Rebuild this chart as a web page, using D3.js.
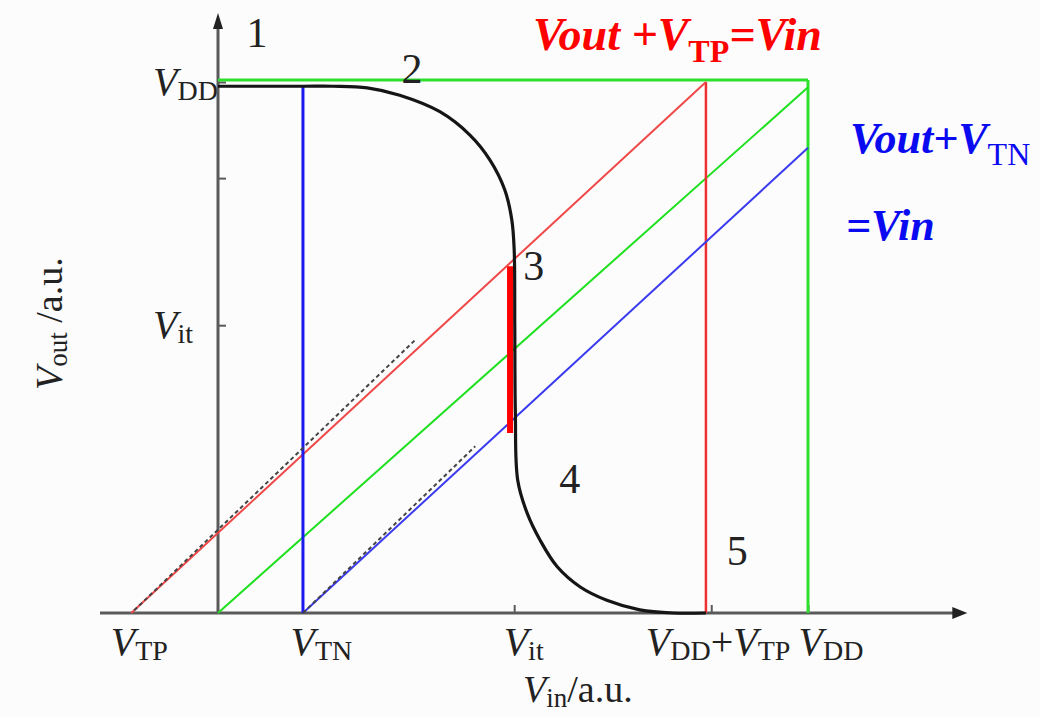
<!DOCTYPE html>
<html>
<head>
<meta charset="utf-8">
<script src="https://cdn.jsdelivr.net/npm/d3@7"></script>
<style>
  body { margin: 0; background: #fcfcfc; }
  svg { display: block; }
</style>
</head>
<body>
<svg id="chart" width="1040" height="717"></svg>
<script>
// CMOS inverter voltage transfer characteristic, voltages in units of VDD.
const VDD = 1;
const VTP = -0.147;
const VTN = 0.144;
const VIT = 0.502;
const VDD_PLUS_VTP = 0.827;

// Vout(Vin) of the inverter
const vtcVin  = [0, 0.144, 0.195, 0.253, 0.308, 0.376, 0.427, 0.461, 0.486, 0.498, 0.502, 0.503, 0.504, 0.508, 0.524, 0.546, 0.575, 0.614, 0.659, 0.715, 0.771, 0.827];
const vtcVout = [0.992, 0.992, 0.992, 0.989, 0.975, 0.944, 0.900, 0.853, 0.797, 0.740, 0.684, 0.542, 0.377, 0.250, 0.188, 0.137, 0.087, 0.049, 0.024, 0.006, 0.000, 0.000];

// boundary lines [Vin, Vout]
const pmosBoundary = [[VTP, 0], [VDD_PLUS_VTP, 1]];          // Vout + VTP = Vin
const nmosBoundary = [[VTN, 0], [1.0, 0.876]];               // Vout + VTN = Vin
const unityLine    = [[0, 0], [1.0, 0.99]];                  // Vout = Vin
const pmosSim      = [[-0.142, 0.005], [0.334, 0.514]];      // dashed simulation traces
const nmosSim      = [[VTN, 0], [0.436, 0.314]];
const transitionBar = [[0.495, 0.653], [0.495, 0.339]];     // region 3 (both saturated)

// axis ticks
const xTickValues = [VTP, VTN, VIT, 0.836, VDD];
const xTickLabels = [
  [["V", "i"], ["TP", "s"]],
  [["V", "i"], ["TN", "s"]],
  [["V", "i"], ["it", "s"]],
  [["V", "i"], ["DD", "s"], ["+", "n"], ["V", "i"], ["TP", "s"]],
  [["V", "i"], ["DD", "s"]]
];
const xTickMarked = [false, false, true, true, true];
const yTickValues = [1.0, 0.819, 0.542];
const yTickLabels = [
  [["V", "i"], ["DD", "s"]],
  [],
  [["V", "i"], ["it", "s"]]
];

// operating-region numbers [Vin, Vout, label]
const regionVin  = [0.066, 0.329, 0.535, 0.596, 0.880];
const regionVout = [1.065, 0.998, 0.628, 0.226, 0.090];
const regionText = ["1", "2", "3", "4", "5"];

// label start offsets from their tick, px
const xLabelShift = [-21, -13, -11, -66, -10];

const SERIF = "Liberation Serif";
const svg = d3.select("#chart").attr("font-family", SERIF);
const x = d3.scaleLinear().domain([0, 1]).range([218, 808]);
const y = d3.scaleLinear().domain([0, 1]).range([613, 82]);

const AXIS = "#5a5a5a";

// writes runs of italic / subscript / plain text into a <text>
function rich(textSel, parts, big, small, opts = {}) {
  let shifted = false;
  textSel.attr("font-family", SERIF);
  parts.forEach(([t, kind]) => {
    const ts = textSel.append("tspan").text(t);
    if (kind === "s") {
      ts.attr("font-size", small).attr("font-style", "normal")
        .attr("font-weight", opts.subWeight || null);
      if (!shifted) { ts.attr("dy", opts.subShift || 6); shifted = true; }
    } else {
      ts.attr("font-size", big)
        .attr("font-style", kind === "i" ? "italic" : "normal");
      if (shifted) { ts.attr("dy", -(opts.subShift || 6)); shifted = false; }
    }
  });
  return textSel;
}

// ---- axes ----
const xAxis = d3.axisBottom(x).tickValues(xTickValues).tickSizeInner(-8).tickSizeOuter(0).tickFormat("");
const gx = svg.append("g").attr("transform", `translate(0,${y(0)})`).call(xAxis);
gx.select(".domain").remove();
gx.selectAll(".tick line").attr("stroke", AXIS).attr("stroke-width", 2)
  .attr("display", (d, i) => xTickMarked[i] ? null : "none");
gx.selectAll(".tick").each(function (d, i) {
  const t = d3.select(this).append("text")
    .attr("y", 42).attr("x", xLabelShift[i]).attr("text-anchor", "start")
    .attr("fill", "#222").attr("font-size", 40);
  rich(t, xTickLabels[i], 40, 28, { subShift: 5 });
});

const yAxis = d3.axisLeft(y).tickValues(yTickValues).tickSizeInner(-8).tickSizeOuter(0).tickFormat("");
const gy = svg.append("g").attr("transform", `translate(${x(0)},0)`).call(yAxis);
gy.select(".domain").remove();
gy.selectAll(".tick line").attr("stroke", AXIS).attr("stroke-width", 2);
gy.selectAll(".tick").each(function (d, i) {
  if (!yTickLabels[i].length) return;
  const t = d3.select(this).append("text")
    .attr("x", -65).attr("y", 12).attr("text-anchor", "start")
    .attr("fill", "#222").attr("font-size", 40);
  rich(t, yTickLabels[i], 40, 28, { subShift: 5 });
});

// axis lines with arrow heads
const xEnd = x(1.27), yTop = y(1.13);
svg.append("line").attr("x1", x(-0.2)).attr("x2", xEnd - 6).attr("y1", y(0)).attr("y2", y(0))
  .attr("stroke", AXIS).attr("stroke-width", 3);
svg.append("line").attr("x1", x(0)).attr("x2", x(0)).attr("y1", y(0)).attr("y2", yTop + 8)
  .attr("stroke", AXIS).attr("stroke-width", 3);
svg.append("path")
  .attr("d", `M${xEnd},${y(0)} L${xEnd - 15},${y(0) - 6} L${xEnd - 15},${y(0) + 6} Z`)
  .attr("fill", "#222");
svg.append("path")
  .attr("d", `M${x(0)},${yTop} L${x(0) - 5},${yTop + 16} L${x(0) + 5},${yTop + 16} Z`)
  .attr("fill", "#222");

// axis titles
const yTitle = svg.append("text")
  .attr("transform", `translate(62,${y(0.545)}) rotate(-90)`)
  .attr("text-anchor", "middle").attr("fill", "#222");
rich(yTitle, [["V", "i"], ["out", "s"], [" /a.u.", "n"]], 38, 27, { subShift: 5 });

const xTitle = svg.append("text")
  .attr("x", x(0.61)).attr("y", 702).attr("text-anchor", "middle").attr("fill", "#222");
rich(xTitle, [["V", "i"], ["in", "s"], ["/a.u.", "n"]], 38, 27, { subShift: 5 });

// ---- lines ----
const line = d3.line().x(d => x(d[0])).y(d => y(d[1]));

// region boundaries
svg.append("path").attr("d", line([[0, 1.004], [1.0, 1.004]]))
  .attr("stroke", "#2ee02e").attr("stroke-width", 3).attr("fill", "none");
svg.append("path").attr("d", line([[1.0, 0], [1.0, 1.004]]))
  .attr("stroke", "#2ee02e").attr("stroke-width", 3).attr("fill", "none");
svg.append("path").attr("d", line(unityLine))
  .attr("stroke", "#1ee01e").attr("stroke-width", 2).attr("fill", "none");
svg.append("path").attr("d", line([[VDD_PLUS_VTP, 0], [VDD_PLUS_VTP, 1]]))
  .attr("stroke", "#ee3030").attr("stroke-width", 2.5).attr("fill", "none");
svg.append("path").attr("d", line(pmosBoundary))
  .attr("stroke", "#f04848").attr("stroke-width", 2).attr("fill", "none");
svg.append("path").attr("d", line(nmosBoundary))
  .attr("stroke", "#3a3aee").attr("stroke-width", 2).attr("fill", "none");
svg.append("path").attr("d", line([[VTN, 0], [VTN, 0.992]]))
  .attr("stroke", "#1a1aee").attr("stroke-width", 3).attr("fill", "none");

// simulated traces
[pmosSim, nmosSim].forEach(seg => {
  svg.append("path").attr("d", line(seg))
    .attr("stroke", "#444").attr("stroke-width", 2).attr("stroke-dasharray", "4,3")
    .attr("fill", "none");
});

// transfer characteristic
const vtc = d3.line().x((d, i) => x(vtcVin[i])).y(d => y(d)).curve(d3.curveCatmullRom.alpha(0.5));
svg.append("path").attr("d", vtc(vtcVout))
  .attr("stroke", "#151515").attr("stroke-width", 3.2).attr("fill", "none");

// region 3 transition bar
svg.append("path").attr("d", line(transitionBar))
  .attr("stroke", "#ff0000").attr("stroke-width", 6).attr("fill", "none");

// region numbers
svg.selectAll("text.region").data(regionText).join("text")
  .attr("class", "region").attr("font-family", SERIF)
  .attr("x", (d, i) => x(regionVin[i])).attr("y", (d, i) => y(regionVout[i]))
  .attr("text-anchor", "middle").attr("font-size", 42).attr("fill", "#222")
  .text(d => d);

// boundary equations
const redEq = svg.append("text").attr("x", 533).attr("y", 50)
  .attr("fill", "#ff0000").attr("font-weight", "bold");
rich(redEq, [["Vout +V", "i"], ["TP", "s"], ["=Vin", "i"]], 46, 32, { subShift: 12, subWeight: "bold" });

const blueEq = svg.append("text").attr("x", 850).attr("y", 153)
  .attr("fill", "#0a0af0").attr("font-weight", "bold");
rich(blueEq, [["Vout+V", "i"], ["TN", "s"]], 44, 32, { subShift: 12, subWeight: "normal" });
svg.append("text").attr("x", 846).attr("y", 240).attr("font-family", SERIF)
  .attr("fill", "#0a0af0").attr("font-weight", "bold").attr("font-style", "italic")
  .attr("font-size", 44).text("=Vin");
</script>
</body>
</html>
